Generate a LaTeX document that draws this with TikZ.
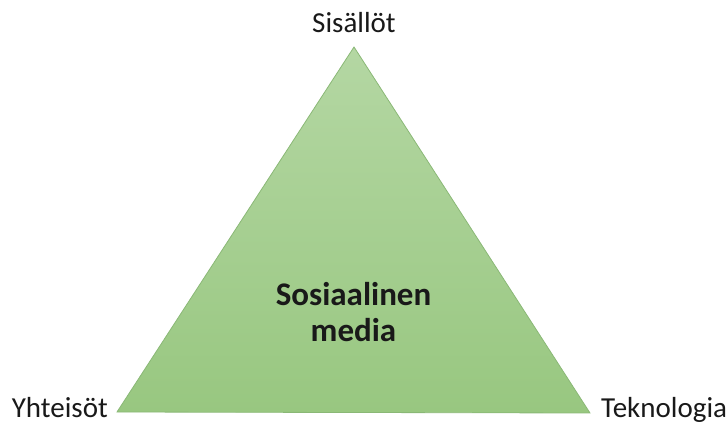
\documentclass[tikz,border=0pt]{standalone}
\usepackage{fontspec}
\setmainfont{Carlito}
\usetikzlibrary{positioning, calc}
\definecolor{triTop}{RGB}{180,215,163}
\definecolor{triBottom}{RGB}{152,199,128}
\definecolor{triEdge}{RGB}{138,184,118}

\begin{document}
\begin{tikzpicture}[
    x=1pt, y=-1pt,
    corner_label/.style={inner sep=0pt, font=\fontsize{29}{34}\selectfont, text=black!90},
    centre_label/.style={inner sep=0pt, align=center, font=\fontsize{33}{36}\selectfont\bfseries, text=black!90},
    tri/.style={top color=triTop, bottom color=triBottom, draw=triEdge, line width=0.8pt, line join=miter}
]
\useasboundingbox (0,0) rectangle (726,427);

% corners of the triangle
\coordinate (apex) at (354,47);
\coordinate (leftc) at (117,412);
\coordinate (rightc) at (590,413);
\coordinate (basemid) at ($(leftc)!0.5!(rightc)$);

\shadedraw[tri] (apex) -- (rightc) -- (leftc) -- cycle;

\node[corner_label, anchor=base, yshift=14pt] (sisallot) at (apex) {Sisällöt};
\node[corner_label, anchor=base east, xshift=-9pt, yshift=-6pt] (yhteisot) at (leftc) {Yhteisöt};
\node[corner_label, anchor=base west, xshift=11pt, yshift=-5pt] (teknologia) at (rightc) {Teknologia};

\node[centre_label, anchor=base, yshift=71pt] (some) at (basemid) {Sosiaalinen\\media};

\end{tikzpicture}
\end{document}
